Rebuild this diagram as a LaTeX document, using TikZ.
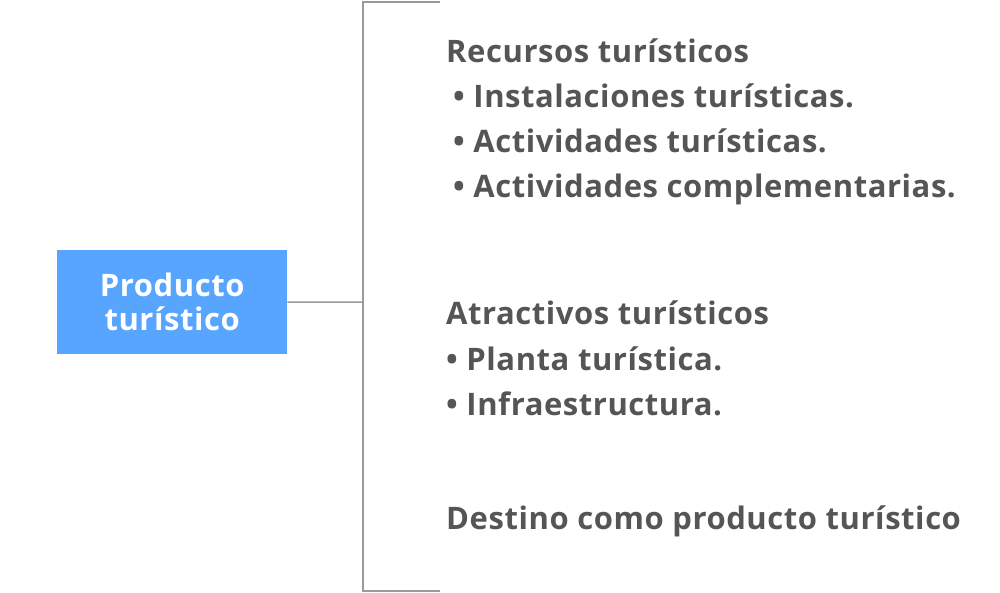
\documentclass[tikz,border=0pt]{standalone}
\usepackage{fontspec}
\setmainfont{Open Sans}[BoldFont={Open Sans Bold}]
\definecolor{boxblue}{HTML}{57A5FF}
\definecolor{txtgray}{HTML}{555555}
\definecolor{linegray}{HTML}{9A9A9A}
\newcommand{\diagfont}{\bfseries\fontsize{31}{34}\selectfont\addfontfeatures{LetterSpace=1.8}}
\begin{document}
\begin{tikzpicture}[x=1pt,y=-1pt,
  item/.style={anchor=base west,inner sep=0pt,text=txtgray,font=\diagfont},
  conn/.style={draw=linegray,line width=1.5pt}]
\useasboundingbox (0,0) rectangle (1000,593);
\node[fill=boxblue,minimum width=230pt,minimum height=104pt,inner sep=0pt,anchor=north west,text=white,align=center,font=\diagfont] (prod) at (57,250) {Producto\\turístico};
\coordinate (bt) at (440,2);
\coordinate (bb) at (440,591);
\coordinate (mid) at (363,302);
\draw[conn] (bt) -- (363,2) -- (363,591) -- (bb);
\draw[conn] (prod.east) -- (mid);
\node[item] (r0) at (446,63) {Recursos turísticos};
\node[item] (r1) at (446,108) {\hspace{7pt}• Instalaciones turísticas.};
\node[item] (r2) at (446,153) {\hspace{7pt}• Actividades turísticas.};
\node[item] (r3) at (446,198) {\hspace{7pt}• Actividades complementarias.};
\node[item] (a0) at (446,324) {Atractivos turísticos};
\node[item] (a1) at (446,370) {• Planta turística.};
\node[item] (a2) at (446,415) {• Infraestructura.};
\node[item] (d0) at (446,529) {Destino como producto turístico};
\end{tikzpicture}
\end{document}
